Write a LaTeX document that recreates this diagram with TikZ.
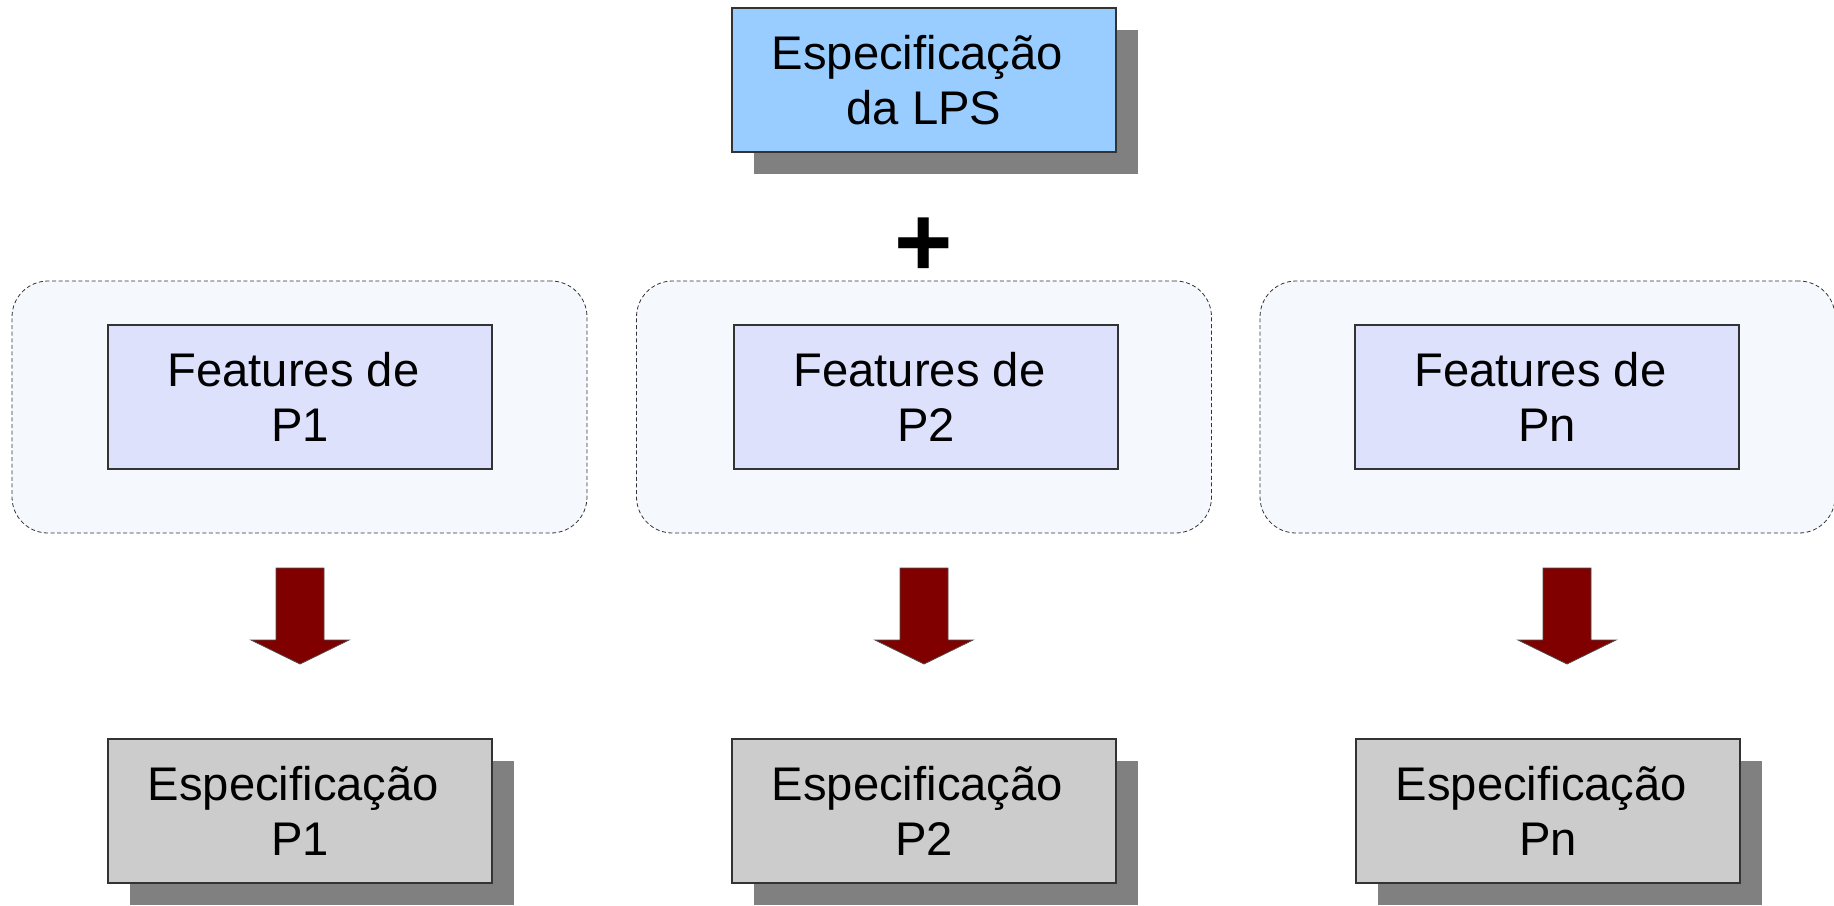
\documentclass[tikz,border=0pt]{standalone}
\usepackage{fontspec}
\setmainfont{Liberation Sans}
\usetikzlibrary{shadows}
\definecolor{lpsblue}{HTML}{99CCFF}
\definecolor{featblue}{HTML}{DDE1FC}
\definecolor{groupfill}{HTML}{F5F9FD}
\definecolor{prodgray}{HTML}{CCCCCC}
\definecolor{shadowgray}{HTML}{808080}
\definecolor{arrowred}{HTML}{800000}
\definecolor{edgegray}{HTML}{333333}
\tikzset{
         box/.style=
          {
           draw=edgegray,line width=0.6pt,
           minimum width=192pt,minimum height=72pt,
           align=center,inner sep=0pt,
           font=\fontsize{23.6pt}{27.5pt}\selectfont
          },
         boxshadow/.style={drop shadow={shadow xshift=11pt,shadow yshift=-11pt,fill=shadowgray,opacity=1}},
         specbox/.style={box,fill=lpsblue,boxshadow},
         prodbox/.style={box,fill=prodgray,boxshadow},
         featbox/.style={box,fill=featblue},
         groupbox/.style=
          {
           draw=black!80,line width=0.4pt,dash pattern=on 2pt off 1.3pt,
           fill=groupfill,rounded corners=18pt,
           minimum width=287.5pt,minimum height=126pt
          },
         pics/blockarrow/.style=
          {
           code=
            {
             \draw[fill=arrowred,draw=black!70,line width=0.4pt]
              (-24,0) -- (24,0) -- (24,72) -- (49,72) -- (0,96) -- (-49,72) -- (-24,72) -- cycle;
            }
          }
        }
\begin{document}
\begin{tikzpicture}[x=0.5pt,y=-0.5pt]
\useasboundingbox (0,0) rectangle (1834,905);
\node[specbox] (spec) at (924,80) {Especificação\hspace*{.28em}\\da LPS}; % LPS spec
\node[inner sep=0pt,font=\bfseries\fontsize{50pt}{50pt}\selectfont] (plus) at (924,247) {+}; % plus sign
\node[groupbox] (grp1) at (299.5,407) {}; % group P1
\node[groupbox] (grp2) at (924,407) {}; % group P2
\node[groupbox] (grp3) at (1547.5,407) {}; % group Pn
\node[featbox] (feat1) at (300,397) {Features de\hspace*{.28em}\\P1}; % features P1
\node[featbox] (feat2) at (926,397) {Features de\hspace*{.28em}\\P2}; % features P2
\node[featbox] (feat3) at (1547,397) {Features de\hspace*{.28em}\\Pn}; % features Pn
\pic (arr1) at (300,568) {blockarrow}; % arrow P1
\pic (arr2) at (924,568) {blockarrow}; % arrow P2
\pic (arr3) at (1567,568) {blockarrow}; % arrow Pn
\node[prodbox] (prod1) at (300,811) {Especificação\hspace*{.28em}\\P1}; % spec P1
\node[prodbox] (prod2) at (924,811) {Especificação\hspace*{.28em}\\P2}; % spec P2
\node[prodbox] (prod3) at (1548,811) {Especificação\hspace*{.28em}\\Pn}; % spec Pn
\end{tikzpicture}
\end{document}
